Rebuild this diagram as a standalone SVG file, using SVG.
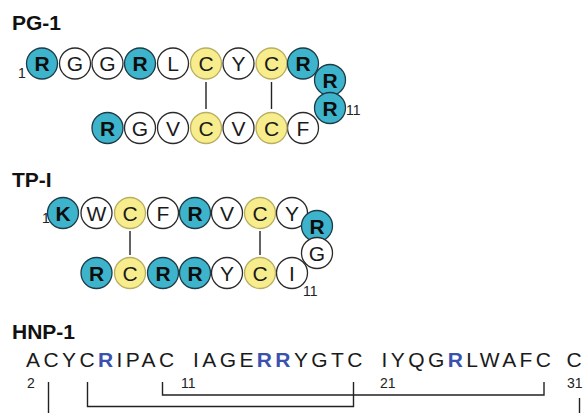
<svg xmlns="http://www.w3.org/2000/svg" width="588" height="413" viewBox="0 0 588 413">
<style>
.title{font-family:"Liberation Sans",Arial,sans-serif;font-weight:bold;font-size:21px;fill:#111}
.b circle{fill:#3db4cb;stroke:#1d3c47;stroke-width:1.3}
.y circle{fill:#f8ed8c;stroke:#b9ae63;stroke-width:1.3}
.w circle{fill:#fff;stroke:#2a2a2a;stroke-width:1.3}
.aa text{font-family:"Liberation Sans",Arial,sans-serif;font-size:21px;text-anchor:middle;fill:#1a1a1a}
.b text{font-weight:bold;fill:#0d0d0d}
.num{font-family:"Liberation Sans",Arial,sans-serif;font-size:14px;fill:#222}
.seq{font-family:"Liberation Sans",Arial,sans-serif;font-size:21px;letter-spacing:3.4px;fill:#1a1a1a}
.hr{fill:#3a52ae;font-weight:bold}
.hn{font-family:"Liberation Sans",Arial,sans-serif;font-size:14px;fill:#222}
.ln{stroke:#222;stroke-width:1.4;fill:none}
</style>

<text class="title" x="12" y="30">PG-1</text>
<text class="title" x="12" y="187">TP-I</text>
<text class="title" x="12" y="339">HNP-1</text>

<g id="pg1">
<text class="num" x="18" y="78">1</text>
<text class="num" x="346" y="115">11</text>
<g class="aa">
<g id="pg-R1" class="b"><circle cx="42" cy="63.5" r="15.5"/><text x="42" y="71">R</text></g>
<g id="pg-G2" class="w"><circle cx="75" cy="63.5" r="15.5"/><text x="75" y="71">G</text></g>
<g id="pg-G3" class="w"><circle cx="107.5" cy="63.5" r="15.5"/><text x="107.5" y="71">G</text></g>
<g id="pg-R4" class="b"><circle cx="140" cy="63.5" r="15.5"/><text x="140" y="71">R</text></g>
<g id="pg-L5" class="w"><circle cx="173" cy="63.5" r="15.5"/><text x="173" y="71">L</text></g>
<g id="pg-C6" class="y"><circle cx="206" cy="63.5" r="15.5"/><text x="206" y="71">C</text></g>
<g id="pg-Y7" class="w"><circle cx="238.5" cy="63.5" r="15.5"/><text x="238.5" y="71">Y</text></g>
<g id="pg-C8" class="y"><circle cx="271.5" cy="63.5" r="15.5"/><text x="271.5" y="71">C</text></g>
<g id="pg-R9" class="b"><circle cx="303" cy="63.5" r="15.5"/><text x="303" y="71">R</text></g>
<g id="pg-R10" class="b"><circle cx="330" cy="80" r="15.5"/><text x="330" y="87.5">R</text></g>
<g id="pg-R11" class="b"><circle cx="330" cy="108" r="15.5"/><text x="330" y="115.5">R</text></g>
<g id="pg-F12" class="w"><circle cx="303" cy="128" r="15.5"/><text x="303" y="135.5">F</text></g>
<g id="pg-C13" class="y"><circle cx="271.5" cy="128" r="15.5"/><text x="271.5" y="135.5">C</text></g>
<g id="pg-V14" class="w"><circle cx="238.5" cy="128" r="15.5"/><text x="238.5" y="135.5">V</text></g>
<g id="pg-C15" class="y"><circle cx="206" cy="128" r="15.5"/><text x="206" y="135.5">C</text></g>
<g id="pg-V16" class="w"><circle cx="173" cy="128" r="15.5"/><text x="173" y="135.5">V</text></g>
<g id="pg-G17" class="w"><circle cx="140" cy="128" r="15.5"/><text x="140" y="135.5">G</text></g>
<g id="pg-R18" class="b"><circle cx="107.5" cy="128" r="15.5"/><text x="107.5" y="135.5">R</text></g>
</g>
</g>

<g id="tp1">
<text class="num" x="42" y="223">1</text>
<text class="num" x="303" y="296">11</text>
<g class="aa">
<g id="tp-K1" class="b"><circle cx="63" cy="213" r="15.5"/><text x="63" y="220.5">K</text></g>
<g id="tp-W2" class="w"><circle cx="96.5" cy="213" r="15.5"/><text x="96.5" y="220.5">W</text></g>
<g id="tp-C3" class="y"><circle cx="130" cy="213" r="15.5"/><text x="130" y="220.5">C</text></g>
<g id="tp-F4" class="w"><circle cx="163" cy="213" r="15.5"/><text x="163" y="220.5">F</text></g>
<g id="tp-R5" class="b"><circle cx="195" cy="213" r="15.5"/><text x="195" y="220.5">R</text></g>
<g id="tp-V6" class="w"><circle cx="227" cy="213" r="15.5"/><text x="227" y="220.5">V</text></g>
<g id="tp-C7" class="y"><circle cx="260" cy="213" r="15.5"/><text x="260" y="220.5">C</text></g>
<g id="tp-Y8" class="w"><circle cx="292" cy="213" r="15.5"/><text x="292" y="220.5">Y</text></g>
<g id="tp-R9" class="b"><circle cx="317" cy="226" r="15.5"/><text x="317" y="233.5">R</text></g>
<g id="tp-G10" class="w"><circle cx="317" cy="253" r="15.5"/><text x="317" y="260.5">G</text></g>
<g id="tp-I11" class="w"><circle cx="292" cy="273" r="15.5"/><text x="292" y="280.5">I</text></g>
<g id="tp-C12" class="y"><circle cx="260" cy="273" r="15.5"/><text x="260" y="280.5">C</text></g>
<g id="tp-Y13" class="w"><circle cx="227" cy="273" r="15.5"/><text x="227" y="280.5">Y</text></g>
<g id="tp-R14" class="b"><circle cx="195" cy="273" r="15.5"/><text x="195" y="280.5">R</text></g>
<g id="tp-R15" class="b"><circle cx="163" cy="273" r="15.5"/><text x="163" y="280.5">R</text></g>
<g id="tp-C16" class="y"><circle cx="130" cy="273" r="15.5"/><text x="130" y="280.5">C</text></g>
<g id="tp-R17" class="b"><circle cx="96.5" cy="273" r="15.5"/><text x="96.5" y="280.5">R</text></g>
</g>
</g>

<g id="hnp1">
<text class="seq" x="26" y="367">ACYC<tspan class="hr">R</tspan>IPAC</text>
<text class="seq" x="193" y="367">IAGE<tspan class="hr">RR</tspan>YGTC</text>
<text class="seq" x="381.5" y="367">IYQG<tspan class="hr">R</tspan>LWAFC</text>
<text class="seq" x="566.5" y="367">C</text>
<text class="hn" x="27" y="388">2</text>
<text class="hn" x="181" y="388">11</text>
<text class="hn" x="380" y="388">21</text>
<text class="hn" x="567" y="388">31</text>
</g>

<g id="connectors" class="ln">
<line x1="206" y1="82" x2="206" y2="109"/>
<line x1="271.5" y1="82" x2="271.5" y2="109"/>
<line x1="130" y1="231" x2="130" y2="255"/>
<line x1="260" y1="231" x2="260" y2="255"/>
<line x1="48.5" y1="382" x2="48.5" y2="413"/>
<polyline points="87.5,382 87.5,406.5 353.5,406.5 353.5,382"/>
<polyline points="162.5,382 162.5,395 544,395 544,382"/>
<line x1="579.5" y1="398" x2="579.5" y2="413"/>
</g>
</svg>
